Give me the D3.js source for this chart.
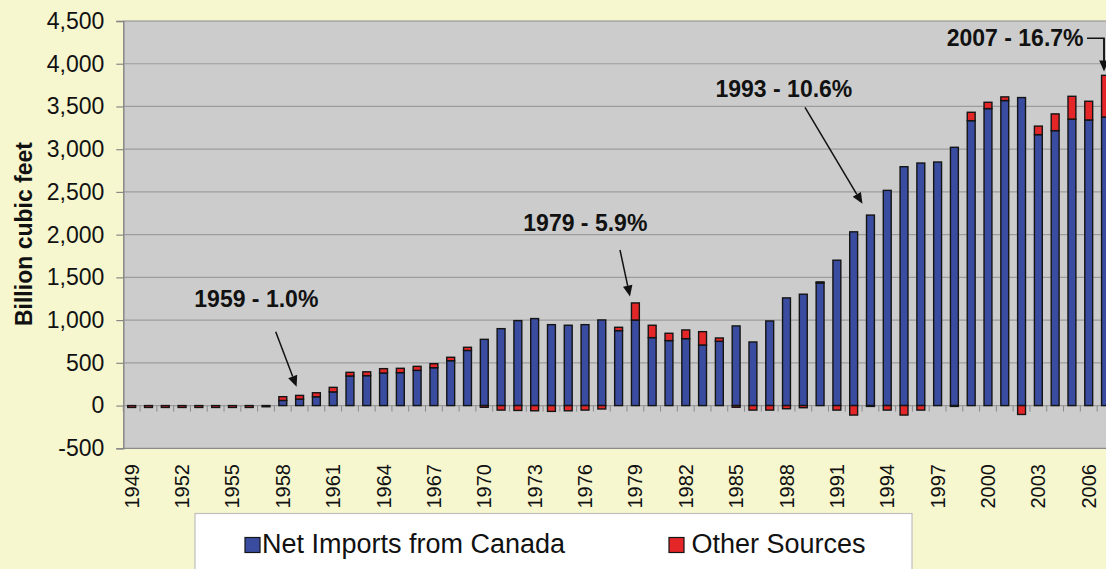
<!DOCTYPE html>
<html>
<head>
<meta charset="utf-8">
<script src="https://cdn.jsdelivr.net/npm/d3@7"></script>
<style>
  html, body { margin: 0; padding: 0; background: #F6F6CF; }
  svg { display: block; }
  text { font-family: "Liberation Sans", Arial, sans-serif; fill: #111; }
</style>
</head>
<body>
<svg id="chart" width="1106" height="569"></svg>
<script>
// ---- Data ----
const years = [1949,1950,1951,1952,1953,1954,1955,1956,1957,1958,1959,1960,1961,1962,1963,1964,1965,1966,1967,1968,1969,
  1970,1971,1972,1973,1974,1975,1976,1977,1978,1979,1980,1981,1982,1983,1984,1985,1986,1987,1988,1989,
  1990,1991,1992,1993,1994,1995,1996,1997,1998,1999,2000,2001,2002,2003,2004,2005,2006,2007];

const canadaImports = [0,0,0,0,0,0,0,0,0,60,76,103,160,346,350,381,385,412,443,525,645,
  775,900,994,1018,947,940,947,1002,877,1001,795,760,783,709,752,932,744,990,1260,1303,
  1435,1701,2033,2229,2518,2795,2838,2850,3022,3334,3475,3569,3604,3170,3217,3352,3342,3377];

const otherSources = [-22,-22,-22,-22,-22,-22,-22,-22,-14,44,43,47,53,43,45,51,51,47,47,40,37,
  -20,-53,-57,-61,-68,-61,-53,-40,39,200,145,86,102,156,39,-20,-53,-53,-37,-25,
  12,-53,-111,-10,-53,-111,-53,0,-10,98,74,43,-104,100,196,267,219,487];

const seriesNames = ["Net Imports from Canada", "Other Sources"];
const yTicks = [-500,0,500,1000,1500,2000,2500,3000,3500,4000,4500];
const xTickYears = years.filter((d, i) => i % 3 === 0);
const yTitle = "Billion cubic feet";

const annotationLabels = ["1959 - 1.0%", "1979 - 5.9%", "1993 - 10.6%", "2007 - 16.7%"];
const annotationYears = [1959, 1979, 1993, 2007];
const annotationTipValues = [220, 1275, 2361, 3910];

// ---- Layout ----
const colors = { canada: "#3A4C9F", other: "#E42629" };
const svg = d3.select("#chart");
const plotLeft = 123.3, plotTop = 21, plotBottom = 448.3;
const step = 16.79;
const plotRight = plotLeft + years.length * step;

const x = d3.scaleBand().domain(years).range([plotLeft, plotRight]).paddingInner(0.53).paddingOuter(0.265);
const y = d3.scaleLinear().domain([-500, 4500]).range([plotBottom, plotTop]);
const cx = yr => x(yr) + x.bandwidth() / 2;
const fmt = d => d3.format(",")(Math.abs(d)).replace(/^/, d < 0 ? "-" : "");

// background
svg.append("rect").attr("x", 0).attr("y", 0).attr("width", 1106).attr("height", 569).attr("fill", "#F6F6CF");
svg.append("rect").attr("x", plotLeft).attr("y", plotTop).attr("width", plotRight - plotLeft)
  .attr("height", plotBottom - plotTop).attr("fill", "#CCCCCC");

// gridlines
svg.append("g").selectAll("line").data(yTicks).join("line")
  .attr("x1", plotLeft).attr("x2", plotRight)
  .attr("y1", d => y(d)).attr("y2", d => y(d))
  .attr("stroke", d => (d === 4500 || d === -500) ? "#8A8A8A" : "#9C9C9C").attr("stroke-width", 1.2);

// y axis
const yAxis = d3.axisLeft(y).tickValues(yTicks).tickSize(7).tickPadding(12).tickFormat(fmt);
const gy = svg.append("g").attr("transform", `translate(${plotLeft},0)`).call(yAxis);
gy.select(".domain").attr("stroke", "#888").attr("stroke-width", 1.5);
gy.selectAll(".tick line").attr("stroke", "#888").attr("stroke-width", 1.2);
gy.selectAll(".tick text").attr("font-size", "23px").attr("fill", "#111")
  .style("font-family", "'Liberation Sans', Arial, sans-serif");

// x axis at zero: category boundary ticks
const boundaries = d3.range(years.length + 1).map(i => plotLeft + i * x.step());
svg.append("g").selectAll("line").data(boundaries).join("line")
  .attr("x1", d => d).attr("x2", d => d)
  .attr("y1", y(0)).attr("y2", y(0) + 6)
  .attr("stroke", "#8A8A8A").attr("stroke-width", 1);

// stacked bars
const table = years.map((yr, i) => ({ year: yr, canada: canadaImports[i], other: otherSources[i] }));
const stack = d3.stack().keys(["canada", "other"]).offset(d3.stackOffsetDiverging);
const stacked = stack(table);
svg.append("g").selectAll("g").data(stacked).join("g")
  .attr("fill", d => d.key === "canada" ? colors.canada : colors.other)
  .selectAll("rect").data(d => d.filter(p => p[1] !== p[0])).join("rect")
  .attr("x", d => x(d.data.year))
  .attr("width", x.bandwidth())
  .attr("y", d => y(Math.max(d[0], d[1])))
  .attr("height", d => Math.abs(y(d[0]) - y(d[1])))
  .attr("stroke", "#141414").attr("stroke-width", 1.4);

// x tick labels
svg.append("g").selectAll("text").data(xTickYears).join("text")
  .attr("transform", d => `translate(${cx(d)},464) rotate(-90)`)
  .attr("text-anchor", "end").attr("dy", "0.35em")
  .attr("font-size", "20px")
  .text(d => d);

// y title
svg.append("text")
  .attr("transform", "translate(31.5,234) rotate(-90)")
  .attr("text-anchor", "middle").attr("font-weight", "bold").attr("font-size", "23px")
  .text(yTitle);

// annotations
function arrowHead(g, x1, y1, x2, y2) {
  const dx = x2 - x1, dy = y2 - y1, len = Math.hypot(dx, dy);
  const ux = dx / len, uy = dy / len, L = 11, W = 4.8;
  const bx = x2 - ux * L, by = y2 - uy * L;
  g.append("polygon")
    .attr("points", [[x2, y2], [bx - uy * W, by + ux * W], [bx + uy * W, by - ux * W]].map(p => p.join(",")).join(" "))
    .attr("fill", "#111");
  g.append("line").attr("x1", x1).attr("y1", y1).attr("x2", bx).attr("y2", by)
    .attr("stroke", "#111").attr("stroke-width", 1.5);
}
const ann = svg.append("g");
const annText = [[194.3, 306.7], [523.3, 230.7], [715.5, 96.7], [946.7, 46]];
annotationLabels.forEach((lab, i) => {
  ann.append("text").attr("x", annText[i][0]).attr("y", annText[i][1])
    .attr("font-weight", "bold").attr("font-size", "23px").text(lab);
});
// 1959
arrowHead(ann, 275.7, 331.7, cx(annotationYears[0]) - 3, y(annotationTipValues[0]));
// 1979
arrowHead(ann, 620, 250, cx(annotationYears[1]) - 5.4, y(annotationTipValues[1]));
// 1993
arrowHead(ann, 805, 107.3, cx(annotationYears[2]) - 8, y(annotationTipValues[2]));
// 2007 elbow
{
  const tx = cx(annotationYears[3]) - 1.5, ty = y(annotationTipValues[3]);
  ann.append("polyline").attr("points", `1087,38.3 ${tx},38.3 ${tx},${ty - 10}`)
    .attr("fill", "none").attr("stroke", "#111").attr("stroke-width", 1.5);
  arrowHead(ann, tx, 38.3, tx, ty);
}

// legend
const lg = svg.append("g");
lg.append("rect").attr("x", 195).attr("y", 513.5).attr("width", 717).attr("height", 80)
  .attr("fill", "#FFFFFF").attr("stroke", "#BEBEBE").attr("stroke-width", 1.2);
const legendItems = [
  { name: seriesNames[0], color: colors.canada, sx: 245, tx: 262 },
  { name: seriesNames[1], color: colors.other, sx: 669, tx: 691.5 }
];
legendItems.forEach(it => {
  lg.append("rect").attr("x", it.sx).attr("y", 537.5).attr("width", 15).attr("height", 15)
    .attr("fill", it.color).attr("stroke", "#151515").attr("stroke-width", 1.2);
  lg.append("text").attr("x", it.tx).attr("y", 553.3).attr("font-size", "27px").text(it.name);
});
</script>
</body>
</html>
